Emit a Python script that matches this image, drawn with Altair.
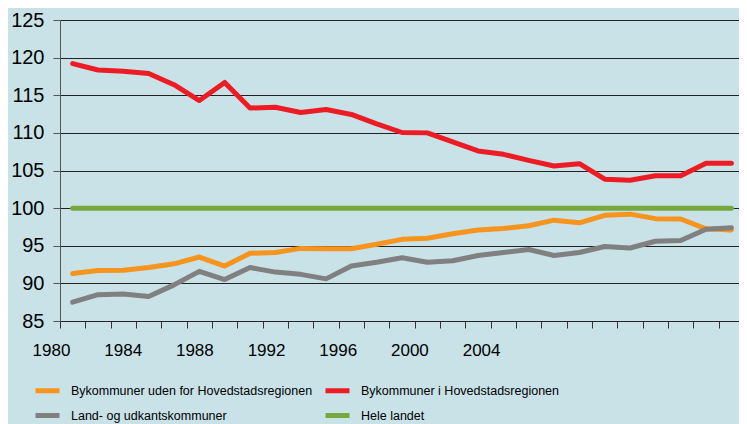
import altair as alt
import pandas as pd

years = list(range(1980, 2007))
orange = [91.3, 91.7, 91.75, 92.1, 92.6, 93.5, 92.3, 94.0, 94.1, 94.65, 94.6, 94.6,
          95.2, 95.85, 96.0, 96.6, 97.1, 97.3, 97.65, 98.4, 98.05, 99.05, 99.2, 98.6,
          98.55, 97.25, 97.1]
red = [119.2, 118.35, 118.2, 117.9, 116.4, 114.3, 116.7, 113.3, 113.4, 112.7, 113.1, 112.45,
       111.2, 110.05, 110.0, 108.8, 107.6, 107.15, 106.35, 105.6, 105.9, 103.85, 103.7, 104.3,
       104.3, 105.95, 105.95]
gray = [87.5, 88.5, 88.6, 88.25, 89.8, 91.6, 90.5, 92.1, 91.5, 91.2, 90.6, 92.3,
        92.8, 93.4, 92.8, 93.0, 93.7, 94.1, 94.5, 93.7, 94.1, 94.9, 94.7, 95.6,
        95.7, 97.2, 97.4]
green = [100] * 27
label_years = [1980, 1984, 1988, 1992, 1996, 2000, 2004]
y_ticks = [85, 90, 95, 100, 105, 110, 115, 120, 125]

series = ["Bykommuner uden for Hovedstadsregionen", "Bykommuner i Hovedstadsregionen",
          "Land- og udkantskommuner", "Hele landet"]
colors = ["#f7941d", "#ed1c24", "#808080", "#77a83d"]
draw_rank = [2, 3, 4, 1]

rows = []
for name, vals, rk in zip(series, [orange, red, gray, green], draw_rank):
    for yr, v in zip(years, vals):
        rows.append({"year": yr, "value": v, "series": name, "rk": rk})
df = pd.DataFrame(rows)

font = "Liberation Sans, Arial"

lines = alt.Chart(df).mark_line(strokeWidth=5, strokeCap="round", strokeJoin="round").encode(
    x=alt.X("year:Q",
            scale=alt.Scale(domain=[1979.5, 2006.3], nice=False, zero=False),
            axis=alt.Axis(values=[y - 0.5 for y in years], labels=False, ticks=True, tickSize=7,
                          tickColor="#333333", domain=True, domainColor="#222222", grid=False,
                          title=None, orient="bottom")),
    y=alt.Y("value:Q",
            scale=alt.Scale(domain=[85, 125], nice=False, zero=False),
            axis=alt.Axis(values=y_ticks, title=None, grid=True, gridColor="#222222",
                          tickSize=7, tickColor="#555555", domainColor="#555555",
                          labelFont=font, labelFontSize=20,
                          labelColor="#000000", labelPadding=9)),
    color=alt.Color("series:N", scale=alt.Scale(domain=series, range=colors),
                    legend=alt.Legend(title=None, orient="none", legendX=-27, legendY=356,
                                      direction="horizontal", columns=2, columnPadding=2,
                                      rowPadding=0,
                                      symbolType="stroke", symbolStrokeWidth=5, symbolSize=576,
                                      labelFont=font, labelFontSize=12.5, labelColor="#000000",
                                      labelOffset=9, labelLimit=400)),
    detail="rk:O",
    order="rk:Q",
)

labels_df = pd.DataFrame({"year": label_years})
lab = alt.Chart(labels_df).mark_point(opacity=0).encode(
    x=alt.X("year:Q",
            scale=alt.Scale(domain=[1980, 2017.89], nice=False, zero=False),
            axis=alt.Axis(values=label_years, format="d", ticks=False, tickSize=0, domain=False,
                          grid=False, labelOffset=-9, labelFlush=False, labelPadding=21,
                          labelFontSize=17, labelFont=font, labelColor="#000000",
                          title=None, orient="bottom")),
)

chart = alt.layer(lines, lab).resolve_scale(x="independent").properties(
    width=679, height=301,
    autosize=alt.AutoSizeParams(type="none"),
    padding={"left": 52, "top": 12, "right": 0, "bottom": 103},
    background="#c8e2e8",
).configure_view(stroke=None)

chart.save("out.html", embed_options={"renderer": "svg", "actions": False})
